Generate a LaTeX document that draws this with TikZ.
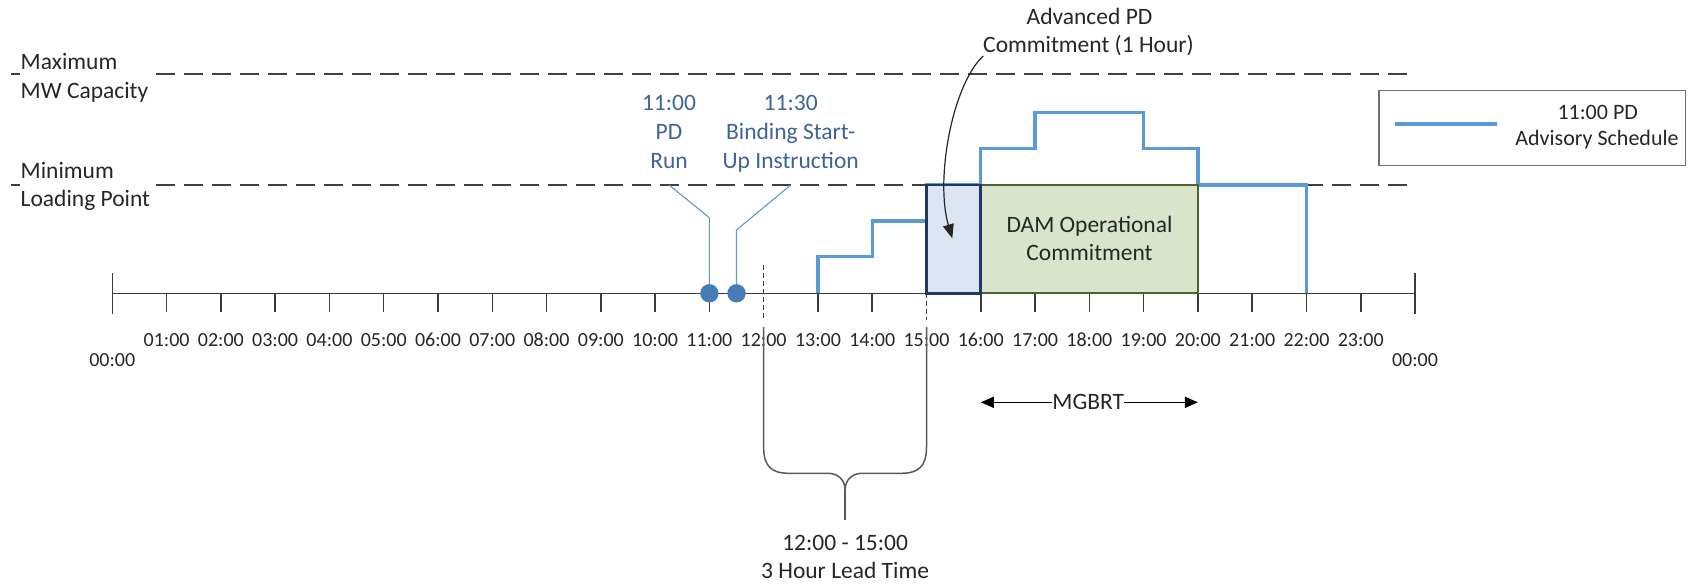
\documentclass[tikz,border=0pt]{standalone}
\usepackage{fontspec}
\setmainfont{Carlito}
\usetikzlibrary{arrows.meta}
\definecolor{txt}{RGB}{38,38,38}
\definecolor{dashc}{RGB}{64,64,64}
\definecolor{axisc}{RGB}{60,60,60}
\definecolor{sched}{RGB}{91,155,213}
\definecolor{dotc}{RGB}{70,125,185}
\definecolor{callc}{RGB}{100,150,200}
\definecolor{ctxt}{RGB}{60,100,150}
\definecolor{apdfill}{RGB}{220,230,242}
\definecolor{apddraw}{RGB}{31,56,100}
\definecolor{damfill}{RGB}{216,229,203}
\definecolor{damdraw}{RGB}{79,98,40}
\definecolor{bracec}{RGB}{89,89,89}
\definecolor{legc}{RGB}{110,110,110}
\newcommand{\hourx}[1]{112.3+54.28*(#1)}
\begin{document}
\begin{tikzpicture}[x=1pt,y=-1pt,
  lbl/.style={font=\fontsize{23.5}{28}\selectfont, text=txt, inner sep=0, outer sep=0},
  ticklbl/.style={font=\fontsize{20}{24}\selectfont, text=txt, inner sep=0, outer sep=0},
  legtxt/.style={font=\fontsize{22}{26}\selectfont, text=txt, inner sep=0, outer sep=0},
  ctext/.style={font=\fontsize{23.5}{28}\selectfont, text=ctxt, inner sep=0, outer sep=0},
  refline/.style={draw=dashc, line width=2pt, dash pattern=on 19pt off 9pt},
  axisline/.style={draw=axisc, line width=1.5pt},
  schedline/.style={draw=sched, line width=3.3pt, line join=miter},
  vdash/.style={draw=axisc, line width=1.3pt, dash pattern=on 5pt off 3pt},
  bracel/.style={draw=bracec, line width=1.5pt},
  callline/.style={draw=callc, line width=1.1pt},
  dotn/.style={circle, fill=dotc, inner sep=0, minimum size=18.4pt},
  apdbox/.style={draw=apddraw, fill=apdfill, line width=2.7pt, inner sep=0, outer sep=0},
  dambox/.style={draw=damdraw, fill=damfill, line width=2.2pt, inner sep=0, outer sep=0},
  legbox/.style={draw=legc, line width=1.5pt, inner sep=0, outer sep=0},
  arr/.style={draw=black, line width=1.5pt, -{Triangle[length=13pt,width=11pt]}},
  carr/.style={draw=black!85, line width=1.2pt, -{Triangle[length=14pt,width=11pt]}}
]
\useasboundingbox (0,0) rectangle (1692,584);

% reference lines
\draw[refline] (11,74.3) -- (20,74.3);
\draw[refline] (156,74.3) -- (1415,74.3);
\draw[refline] (11,185) -- (20,185);
\draw[refline] (156,185) -- (1415,185);

\node[lbl, anchor=base west] (maxa) at (20.7,69.3) {Maximum};
\node[lbl, anchor=base west] (maxb) at (20.7,98) {MW Capacity};
\node[lbl, anchor=base west] (mina) at (20.7,178) {Minimum};
\node[lbl, anchor=base west] (minb) at (20.7,206.7) {Loading Point};

% axis
\coordinate (ax0) at (112.3,293.3);
\coordinate (ax24) at (1415,293.3);
\draw[axisline] (ax0) -- (ax24);
\draw[axisline] (112.3,272.7) -- (112.3,314);
\draw[axisline] (1415,272.7) -- (1415,314);
\foreach \h in {1,...,11,13,14,16,17,...,23}
  \draw[axisline] ({\hourx{\h}},293.3) -- ++(0,18.4);
\foreach \h in {1,...,23}
  \node[ticklbl, anchor=base] (t\h) at ({\hourx{\h}},346) {\ifnum\h<10 0\fi\h:00};
\node[ticklbl, anchor=base] (t0) at (112.3,366.7) {00:00};
\node[ticklbl, anchor=base] (t24) at (1415,366.7) {00:00};

% schedule
\draw[schedline] ({\hourx{13}},293.3) |- ({\hourx{14}},256.7) |- ({\hourx{15}},221)
  |- ({\hourx{16}},185) |- ({\hourx{17}},148.3) |- ({\hourx{19}},112.3)
  |- ({\hourx{20}},148.3) |- ({\hourx{22}},185) -- ({\hourx{22}},293.3);

% boxes
\node[dambox, anchor=north west, minimum width=217.1pt, minimum height=108.3pt] (dam) at ({\hourx{16}},185) {};
\node[apdbox, anchor=north west, minimum width=54.3pt, minimum height=108.3pt] (apd) at ({\hourx{15}},185) {};
\node[lbl, anchor=base] (dam1) at (1089.5,232.3) {DAM Operational};
\node[lbl, anchor=base] (dam2) at (1089.5,260.7) {Commitment};

% callouts
\node[ctext, anchor=base] (c1a) at (669,110) {11:00};
\node[ctext, anchor=base] (c1b) at (669,139) {PD};
\node[ctext, anchor=base] (c1c) at (669,168.3) {Run};
\node[ctext, anchor=base] (c2a) at (790.7,110) {11:30};
\node[ctext, anchor=base] (c2b) at (790.7,139) {Binding Start-};
\node[ctext, anchor=base] (c2c) at (790.7,168.3) {Up Instruction};
\node[dotn] (d1) at ({\hourx{11}},293.3) {};
\node[dotn] (d2) at ({\hourx{11.5}},293.3) {};
\coordinate (c1top) at (669,185);
\coordinate (c1bend) at ({\hourx{11}},217.7);
\coordinate (c2top) at (790.7,185);
\coordinate (c2bend) at ({\hourx{11.5}},230);
\draw[callline] (c1top) -- (c1bend) -- (d1);
\draw[callline] (c2top) -- (c2bend) -- (d2);

% dashed markers
\draw[vdash] ({\hourx{12}},265) -- ({\hourx{12}},318);
\draw[vdash] ({\hourx{15}},293.3) -- ({\hourx{15}},320);

% brace
\coordinate (bLt) at ({\hourx{12}},327);
\coordinate (bRt) at ({\hourx{15}},327);
\coordinate (btip) at (845.1,490);
\coordinate (bstem) at (845.1,520);
\draw[bracel] (bLt) -- ({\hourx{12}},447) .. controls ({\hourx{12}},466) and (771,473.3) .. (789,473.3)
  -- (828,473.3) .. controls (838,473.3) and (845.1,480) .. (btip)
  .. controls (845.1,480) and (852,473.3) .. (862,473.3) -- (901,473.3)
  .. controls (919,473.3) and ({\hourx{15}},466) .. ({\hourx{15}},447) -- (bRt);
\draw[bracel] (btip) -- (bstem);
\node[lbl, anchor=base] (lt1) at (845.1,550) {12:00 - 15:00};
\node[lbl, anchor=base] (lt2) at (845.1,578) {3 Hour Lead Time};

% MGBRT
\node[lbl, anchor=base] (mg) at (1088.3,409) {MGBRT};
\coordinate (mgL) at ({\hourx{16}},402.3);
\coordinate (mgR) at ({\hourx{20}},402.3);
\draw[arr] (mg.west |- mgL) -- (mgL);
\draw[arr] (mg.east |- mgR) -- (mgR);

% advanced PD
\node[lbl, anchor=base] (apt1) at (1089.5,24) {Advanced PD};
\node[lbl, anchor=base] (apt2) at (1088.5,52.7) {Commitment (1 Hour)};
\coordinate (apdtip) at (952.3,238.3);
\draw[carr] (apt2.south west) .. controls (952,85) and (935,180) .. (apdtip);

% legend
\node[legbox, anchor=north west, minimum width=306.7pt, minimum height=75pt] (leg) at (1379,90.7) {};
\coordinate (legL) at (1395,124);
\coordinate (legR) at (1497.3,124);
\draw[schedline] (legL) -- (legR);
\node[legtxt, anchor=base] (lg1) at (1597.7,119.3) {11:00 PD};
\node[legtxt, anchor=base] (lg2) at (1597,145) {Advisory Schedule};
\end{tikzpicture}
\end{document}
